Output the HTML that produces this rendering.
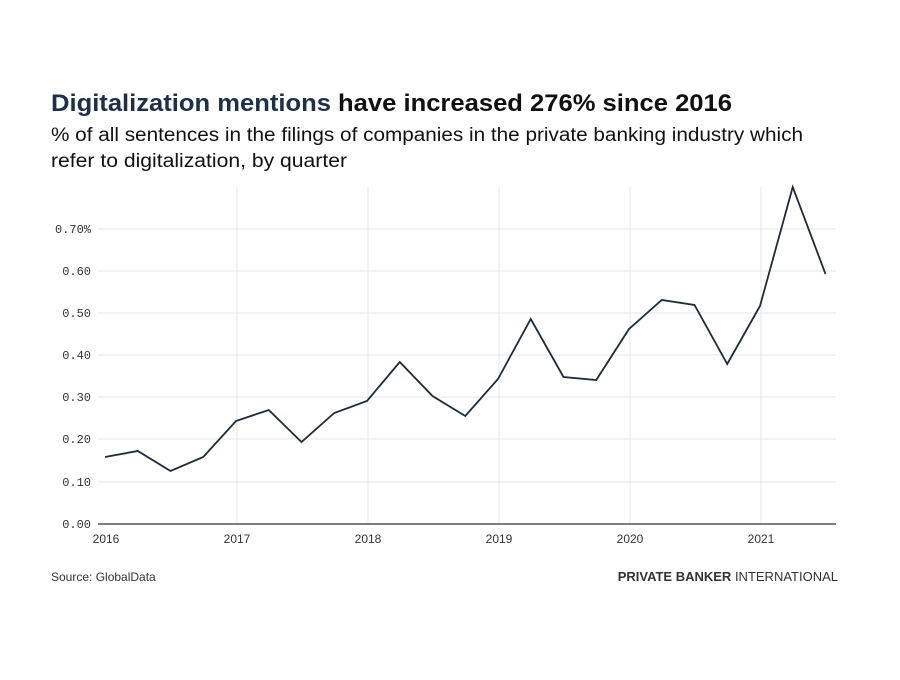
<!DOCTYPE html><html><head><style>body{margin:0;background:#fff;width:900px;height:675px;overflow:hidden;font-family:"Liberation Sans",sans-serif}</style></head><body>
<svg width="900" height="675" xmlns="http://www.w3.org/2000/svg">
<text x="51" y="111" font-size="24" font-weight="bold" fill="#1d3048" font-family="Liberation Sans, sans-serif" textLength="681" lengthAdjust="spacingAndGlyphs">Digitalization mentions <tspan fill="#111">have increased 276% since 2016</tspan></text>
<text x="51" y="141" font-size="19" fill="#111" textLength="752" lengthAdjust="spacingAndGlyphs">% of all sentences in the filings of companies in the private banking industry which</text>
<text x="51" y="167" font-size="19" fill="#111" textLength="296" lengthAdjust="spacingAndGlyphs">refer to digitalization, by quarter</text>
<g stroke="#e6e6e6" stroke-width="1">
<line x1="237" y1="187" x2="237" y2="524"/><line x1="368" y1="187" x2="368" y2="524"/><line x1="499" y1="187" x2="499" y2="524"/><line x1="630" y1="187" x2="630" y2="524"/><line x1="761" y1="187" x2="761" y2="524"/>
<line x1="98" y1="229" x2="836" y2="229"/><line x1="98" y1="271" x2="836" y2="271"/><line x1="98" y1="313" x2="836" y2="313"/><line x1="98" y1="355" x2="836" y2="355"/><line x1="98" y1="397" x2="836" y2="397"/><line x1="98" y1="439" x2="836" y2="439"/><line x1="98" y1="482" x2="836" y2="482"/>
</g>
<line x1="98" y1="524" x2="836" y2="524" stroke="#333" stroke-width="1.2"/>
<g font-family="Liberation Mono, monospace" font-size="12" fill="#333" text-anchor="end">
<text x="91" y="233">0.70%</text><text x="91" y="275">0.60</text><text x="91" y="317">0.50</text><text x="91" y="359">0.40</text><text x="91" y="401">0.30</text><text x="91" y="443">0.20</text><text x="91" y="486">0.10</text><text x="91" y="528">0.00</text></g>
<g font-size="12" fill="#333" text-anchor="middle">
<text x="106" y="543">2016</text><text x="237" y="543">2017</text><text x="368" y="543">2018</text><text x="499" y="543">2019</text><text x="630" y="543">2020</text><text x="761" y="543">2021</text></g>
<polyline fill="none" stroke="#1d2b3c" stroke-width="1.8" points="105,457 137.75,451 170.5,471 203.25,457 236,421 268.75,410 301.5,442 334.25,413 367,401 399.75,362 432.5,396 465.25,416 498,379 530.75,319 563.5,377 596.25,380 629,329 661.75,300 694.5,305 727.25,364 760,306 792.75,187 825.5,274"/>
<text x="51" y="581" font-size="12" fill="#333">Source: GlobalData</text>
<text x="838" y="581" font-size="13" fill="#333" text-anchor="end"><tspan font-weight="bold">PRIVATE BANKER</tspan> INTERNATIONAL</text>
</svg></body></html>
